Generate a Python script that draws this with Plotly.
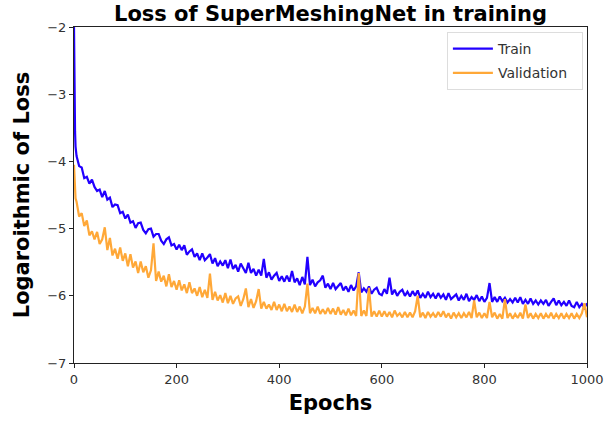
import plotly.graph_objects as go

epochs = [0, 1, 2, 3] + list(range(5, 1001, 5))

train_loss = [
    -2.0, -3.15, -3.55, -3.78,
    -3.92, -4.07, -4.09, -4.25, -4.23, -4.33, -4.27, -4.38, -4.44, -4.42,
    -4.53, -4.44, -4.57, -4.54, -4.68, -4.64, -4.65, -4.77, -4.75, -4.85,
    -4.79, -4.91, -4.89, -4.99, -4.92, -4.91, -5.02, -5.07, -5.01, -5.0,
    -5.12, -5.08, -5.08, -5.18, -5.23, -5.16, -5.13, -5.25, -5.23, -5.31,
    -5.24, -5.32, -5.25, -5.39, -5.34, -5.31, -5.42, -5.37, -5.47, -5.37,
    -5.47, -5.43, -5.38, -5.52, -5.44, -5.56, -5.49, -5.55, -5.47, -5.59,
    -5.46, -5.6, -5.54, -5.64, -5.52, -5.59, -5.66, -5.51, -5.66, -5.6,
    -5.7, -5.61, -5.7, -5.45, -5.73, -5.65, -5.76, -5.7, -5.66, -5.78,
    -5.71, -5.79, -5.7, -5.79, -5.63, -5.8, -5.74, -5.84, -5.72, -5.83,
    -5.42, -5.84, -5.76, -5.86, -5.8, -5.77, -5.7, -5.88, -5.82, -5.9,
    -5.81, -5.9, -5.85, -5.81, -5.92, -5.86, -5.94, -5.84, -5.92, -5.86,
    -5.65, -5.95, -5.89, -5.94, -5.86, -5.97, -5.91, -5.88, -5.97, -5.99,
    -5.9, -5.97, -5.73, -5.98, -5.91, -6.0, -5.94, -5.91, -6.0, -5.94,
    -6.01, -5.93, -6.0, -5.92, -6.03, -5.97, -6.03, -5.94, -6.02, -5.97,
    -6.04, -5.96, -6.03, -5.98, -6.06, -5.96, -6.05, -6.01, -5.98, -6.07,
    -6.0, -6.06, -5.97, -6.08, -6.02, -6.06, -5.99, -6.08, -6.01, -6.09,
    -6.03, -5.81, -6.09, -6.02, -6.09, -6.01, -6.08, -6.03, -6.1, -6.05,
    -6.1, -6.03, -6.1, -6.02, -6.12, -6.06, -6.12, -6.04, -6.12, -6.07,
    -6.13, -6.07, -6.12, -6.06, -6.15, -6.09, -6.04, -6.14, -6.07, -6.14,
    -6.09, -6.15, -6.07, -6.15, -6.17, -6.09, -6.17, -6.12, -6.18, -6.11,
]

val_loss = [
    -4.05, -4.3, -4.45, -4.55,
    -4.6, -4.82, -4.77, -4.96, -4.88, -5.1, -5.04, -5.16, -5.05, -5.23,
    -5.16, -4.98, -5.32, -5.14, -5.4, -5.3, -5.45, -5.28, -5.48, -5.37,
    -5.56, -5.38, -5.58, -5.49, -5.66, -5.49, -5.65, -5.56, -5.73, -5.62,
    -5.22, -5.78, -5.64, -5.79, -5.7, -5.86, -5.68, -5.87, -5.78, -5.91,
    -5.77, -5.92, -5.83, -5.96, -5.8, -5.96, -5.89, -6.0, -5.87, -6.02,
    -5.91, -6.03, -5.67, -6.06, -5.94, -6.07, -5.99, -6.1, -5.96, -6.11,
    -6.0, -6.12, -6.04, -6.01, -6.15, -6.05, -5.89, -6.17, -6.05, -6.18,
    -6.08, -5.9, -6.19, -6.09, -6.19, -6.13, -6.21, -6.09, -6.21, -6.13,
    -6.23, -6.12, -6.23, -6.16, -6.24, -6.13, -6.24, -6.16, -6.26, -6.16,
    -5.82, -6.26, -6.18, -6.26, -6.16, -6.27, -6.2, -6.27, -6.18, -6.27,
    -6.19, -6.28, -6.17, -6.28, -6.21, -6.29, -6.19, -6.29, -6.22, -6.3,
    -5.66, -6.3, -6.22, -6.3, -5.88, -6.31, -6.23, -6.31, -6.22, -6.31,
    -6.23, -6.31, -6.24, -6.32, -6.22, -6.3, -6.26, -6.32, -6.24, -6.32,
    -6.25, -6.32, -6.23, -6.0, -6.32, -6.25, -6.33, -6.24, -6.31, -6.26,
    -6.32, -6.24, -6.31, -6.23, -6.32, -6.26, -6.34, -6.25, -6.32, -6.26,
    -6.33, -6.26, -6.32, -6.24, -6.33, -6.07, -6.32, -6.25, -6.33, -6.26,
    -6.33, -6.09, -6.32, -6.25, -6.34, -6.27, -6.34, -6.05, -6.33, -6.26,
    -6.34, -6.27, -6.33, -6.25, -6.34, -6.13, -6.33, -6.26, -6.34, -6.27,
    -6.33, -6.26, -6.34, -6.27, -6.33, -6.25, -6.34, -6.27, -6.33, -6.26,
    -6.34, -6.27, -6.33, -6.26, -6.34, -6.27, -6.33, -6.26, -6.11, -6.32,
]

x_ticks = [0, 200, 400, 600, 800, 1000]
y_ticks = [-7, -6, -5, -4, -3, -2]

FONT = "DejaVu Sans"
PAD = "\u00a0\u00a0"

fig = go.Figure()
fig.add_trace(go.Scatter(x=epochs, y=train_loss, mode="lines", name="Train" + PAD,
                         legendgroup="t", line=dict(color="#2200ff", width=2.2)))
fig.add_trace(go.Scatter(x=epochs, y=val_loss, mode="lines", name="Validation" + PAD,
                         legendgroup="v", line=dict(color="#ffa838", width=2.2)))

axis_common = dict(showgrid=False, zeroline=False, showline=True, mirror=True,
                   automargin=False,
                   linecolor="#222", linewidth=1, ticks="outside", ticklen=4,
                   tickcolor="#222", tickfont=dict(family=FONT, size=13, color="#333"))

fig.update_layout(
    width=604, height=423,
    margin=dict(l=74, r=17, t=27, b=60),
    paper_bgcolor="white", plot_bgcolor="white",
    title=dict(text="<b>Loss of SuperMeshingNet in training</b>",
               font=dict(family=FONT, size=21, color="black"),
               x=(74 + 587) / 2 / 604, xanchor="center", y=0.968, yanchor="middle"),
    xaxis=dict(range=[0, 1000], tickvals=x_ticks,
               title=dict(text="<b>Epochs</b>", font=dict(family=FONT, size=21, color="black"),
                          standoff=9),
               **axis_common),
    yaxis=dict(range=[-7, -2], tickvals=y_ticks,
               title=dict(text="<b>Logaroithmic of Loss</b>", font=dict(family=FONT, size=21, color="black"),
                          standoff=11),
               **axis_common),
    legend=dict(x=0.992, y=0.985, xanchor="right", yanchor="top",
                bgcolor="rgba(255,255,255,0.9)", bordercolor="#ddd", borderwidth=1,
                itemwidth=40, traceorder="grouped", tracegroupgap=3,
                font=dict(family=FONT, size=14, color="#333")),
    showlegend=True,
)

fig.write_html("out.html")
